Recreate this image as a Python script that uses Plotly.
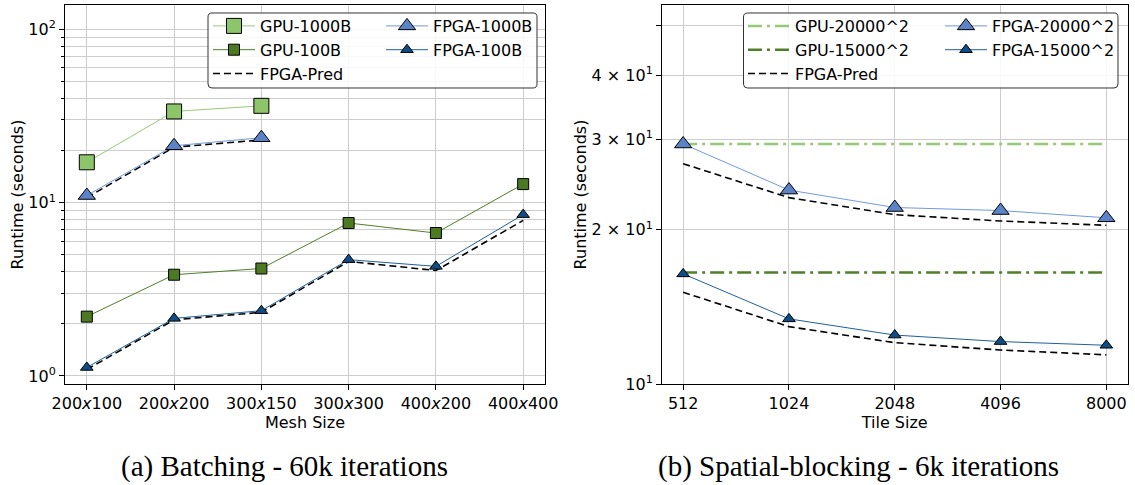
import plotly.graph_objects as go

# ---------------- data ----------------
mesh = ["200x100", "200x200", "300x150", "300x300", "400x200", "400x400"]
mesh_labels = ["200<i>x</i>100", "200<i>x</i>200", "300<i>x</i>150",
               "300<i>x</i>300", "400<i>x</i>200", "400<i>x</i>400"]
mesh_1000b = ["200x100", "200x200", "300x150"]
gpu_1000b = [17.1, 33.6, 36.2]
gpu_100b = [2.20, 3.84, 4.17, 7.63, 6.68, 12.8]
fpga_1000b = [11.0, 21.3, 23.7]
fpga_100b = [1.12, 2.15, 2.38, 4.69, 4.29, 8.53]
pred_1000b = [10.7, 20.9, 23.0]
pred_100b = [1.09, 2.11, 2.33, 4.58, 4.06, 7.9]

tiles = ["512", "1024", "2048", "4096", "8000"]
gpu_20000 = [29.4, 29.4, 29.4, 29.4, 29.4]
gpu_15000 = [16.5, 16.5, 16.5, 16.5, 16.5]
fpga_20000 = [29.4, 23.9, 22.1, 21.8, 21.1]
fpga_15000 = [16.4, 13.4, 12.46, 12.1, 11.9]
pred_20000 = [26.9, 23.1, 21.4, 20.8, 20.4]
pred_15000 = [15.1, 12.94, 12.04, 11.65, 11.4]

left_yticks = [1, 10, 100]
left_yticktext = ["10<sup>0</sup>", "10<sup>1</sup>", "10<sup>2</sup>"]
left_yminor = [2, 3, 4, 5, 6, 7, 8, 9, 20, 30, 40, 50, 60, 70, 80, 90]
right_yticks = [10, 20, 30, 40, 50]
right_yticktext = ["10<sup>1</sup>", "2 × 10<sup>1</sup>", "3 × 10<sup>1</sup>",
                   "4 × 10<sup>1</sup>", ""]

# ---------------- styles ----------------
W, H = 1135, 485
FONT = "DejaVu Sans"
LG_FILL, LG_LINE = "#8dc56b", "#95cb77"
DG_FILL, DG_LINE = "#4b7a22", "#4f7f26"
LB_FILL, LB_LINE = "#5b84c8", "#7199dd"
DB_FILL, DB_LINE = "#0f4d86", "#1f5f9b"
GRID = "#cccccc"

def px_x(p):
    return p / W

def px_y(p):
    return 1 - p / H

fig = go.Figure()

# ---- left panel ----
fig.add_trace(go.Scatter(x=mesh_1000b, y=gpu_1000b, name="GPU-1000B", mode="lines+markers",
                         line=dict(color=LG_LINE, width=1),
                         marker=dict(symbol="square", size=15, color=LG_FILL, line=dict(color="black", width=1)),
                         xaxis="x", yaxis="y", legend="legend", legendrank=1))
fig.add_trace(go.Scatter(x=mesh, y=gpu_100b, name="GPU-100B", mode="lines+markers",
                         line=dict(color=DG_LINE, width=1),
                         marker=dict(symbol="square", size=11, color=DG_FILL, line=dict(color="black", width=1)),
                         xaxis="x", yaxis="y", legend="legend", legendrank=2))
fig.add_trace(go.Scatter(x=mesh_1000b, y=pred_1000b, name="FPGA-Pred", mode="lines",
                         line=dict(color="black", width=1.6, dash="7px,4px"),
                         xaxis="x", yaxis="y", legend="legend", legendrank=3, legendgroup="predL"))
fig.add_trace(go.Scatter(x=mesh, y=pred_100b, name="FPGA-Pred", mode="lines", showlegend=False,
                         line=dict(color="black", width=1.6, dash="7px,4px"),
                         xaxis="x", yaxis="y", legend="legend", legendgroup="predL"))
fig.add_trace(go.Scatter(x=mesh_1000b, y=fpga_1000b, name="FPGA-1000B", mode="lines+markers",
                         line=dict(color=LB_LINE, width=1),
                         marker=dict(symbol="triangle-up", size=15, color=LB_FILL, line=dict(color="black", width=1)),
                         xaxis="x", yaxis="y", legend="legend2", legendrank=1))
fig.add_trace(go.Scatter(x=mesh, y=fpga_100b, name="FPGA-100B", mode="lines+markers",
                         line=dict(color=DB_LINE, width=1),
                         marker=dict(symbol="triangle-up", size=11, color=DB_FILL, line=dict(color="black", width=1)),
                         xaxis="x", yaxis="y", legend="legend2", legendrank=2))

# ---- right panel ----
fig.add_trace(go.Scatter(x=tiles, y=gpu_20000, name="GPU-20000^2", mode="lines",
                         line=dict(color=LG_LINE, width=2.5, dash="14px,5px,3px,5px"),
                         xaxis="x2", yaxis="y2", legend="legend3", legendrank=1))
fig.add_trace(go.Scatter(x=tiles, y=gpu_15000, name="GPU-15000^2", mode="lines",
                         line=dict(color=DG_LINE, width=2.5, dash="14px,5px,3px,5px"),
                         xaxis="x2", yaxis="y2", legend="legend3", legendrank=2))
fig.add_trace(go.Scatter(x=tiles, y=pred_20000, name="FPGA-Pred", mode="lines",
                         line=dict(color="black", width=1.6, dash="7px,4px"),
                         xaxis="x2", yaxis="y2", legend="legend3", legendrank=3, legendgroup="predR"))
fig.add_trace(go.Scatter(x=tiles, y=pred_15000, name="FPGA-Pred", mode="lines", showlegend=False,
                         line=dict(color="black", width=1.6, dash="7px,4px"),
                         xaxis="x2", yaxis="y2", legend="legend3", legendgroup="predR"))
fig.add_trace(go.Scatter(x=tiles, y=fpga_20000, name="FPGA-20000^2", mode="lines+markers",
                         line=dict(color=LB_LINE, width=1),
                         marker=dict(symbol="triangle-up", size=15, color=LB_FILL, line=dict(color="black", width=1)),
                         xaxis="x2", yaxis="y2", legend="legend4", legendrank=1))
fig.add_trace(go.Scatter(x=tiles, y=fpga_15000, name="FPGA-15000^2", mode="lines+markers",
                         line=dict(color=DB_LINE, width=1),
                         marker=dict(symbol="triangle-up", size=11, color=DB_FILL, line=dict(color="black", width=1)),
                         xaxis="x2", yaxis="y2", legend="legend4", legendrank=2))

ydom = [px_y(384), px_y(5)]
axis_common = dict(showline=True, linecolor="black", linewidth=1, mirror=True,
                   ticks="outside", ticklen=5, tickcolor="black", tickwidth=1,
                   showgrid=True, gridcolor=GRID, gridwidth=1.2, zeroline=False,
                   tickfont=dict(family=FONT, size=16, color="black"), automargin=False)

fig.update_layout(
    width=W, height=H, margin=dict(l=0, r=0, t=0, b=0),
    paper_bgcolor="white", plot_bgcolor="white",
    font=dict(family=FONT, size=16, color="black"),
    xaxis=dict(domain=[px_x(65), px_x(545)], type="category", categoryorder="array",
               categoryarray=mesh, tickmode="array", tickvals=mesh, ticktext=mesh_labels,
               range=[-0.25, 5.25], anchor="y",
               title=dict(text="Mesh Size", font=dict(family=FONT, size=16), standoff=0),
               **axis_common),
    yaxis=dict(domain=ydom, type="log", range=[-0.0462, 2.1405], anchor="x",
               tickmode="array", tickvals=left_yticks, ticktext=left_yticktext,
               minor=dict(tickmode="array", tickvals=left_yminor, showgrid=True, gridcolor=GRID,
                          gridwidth=1.2, ticks="outside", ticklen=3, tickcolor="black"),
               title=dict(text="Runtime (seconds)", font=dict(family=FONT, size=16), standoff=0),
               **axis_common),
    xaxis2=dict(domain=[px_x(662), px_x(1127.5)], type="category", categoryorder="array",
                categoryarray=tiles, tickmode="array", tickvals=tiles, ticktext=tiles,
                range=[-0.2, 4.2], anchor="y2",
                title=dict(text="Tile Size", font=dict(family=FONT, size=16), standoff=0),
                **axis_common),
    yaxis2=dict(domain=ydom, type="log", range=[1.0, 1.7395], anchor="x2",
                tickmode="array", tickvals=right_yticks, ticktext=right_yticktext,
                title=dict(text="Runtime (seconds)", font=dict(family=FONT, size=16), standoff=0),
                **axis_common),
)

legend_common = dict(bgcolor="rgba(0,0,0,0)", borderwidth=0, itemwidth=42,
                     font=dict(family=FONT, size=16, color="black"),
                     xanchor="left", yanchor="top", tracegroupgap=0, traceorder="normal",
                     itemclick=False, itemdoubleclick=False)
fig.update_layout(
    legend=dict(x=px_x(208), y=px_y(9), **legend_common),
    legend2=dict(x=px_x(381), y=px_y(9), **legend_common),
    legend3=dict(x=px_x(743), y=px_y(9), **legend_common),
    legend4=dict(x=px_x(940), y=px_y(9), **legend_common),
)

def rounded_rect(x0, y0, x1, y1, r=4):
    # pixel coordinates -> paper path
    def P(x, y):
        return f"{px_x(x):.5f},{px_y(y):.5f}"
    return (f"M{P(x0 + r, y0)} L{P(x1 - r, y0)} Q{P(x1, y0)} {P(x1, y0 + r)} "
            f"L{P(x1, y1 - r)} Q{P(x1, y1)} {P(x1 - r, y1)} L{P(x0 + r, y1)} "
            f"Q{P(x0, y1)} {P(x0, y1 - r)} L{P(x0, y0 + r)} Q{P(x0, y0)} {P(x0 + r, y0)} Z")

for (x0, x1) in [(208, 537), (743.5, 1118)]:
    fig.add_shape(type="path", path=rounded_rect(x0, 13, x1, 88), xref="paper", yref="paper",
                  line=dict(color="#333333", width=1), fillcolor="rgba(255,255,255,0.85)", layer="above")

fig.add_annotation(text="(a) Batching - 60k iterations", x=px_x(284.5), y=px_y(466),
                   xref="paper", yref="paper", showarrow=False, xanchor="center", yanchor="middle",
                   font=dict(family="Liberation Serif", size=29, color="black"))
fig.add_annotation(text="(b) Spatial-blocking - 6k iterations", x=px_x(858), y=px_y(466),
                   xref="paper", yref="paper", showarrow=False, xanchor="center", yanchor="middle",
                   font=dict(family="Liberation Serif", size=29, color="black"))

fig.write_html("out.html")
